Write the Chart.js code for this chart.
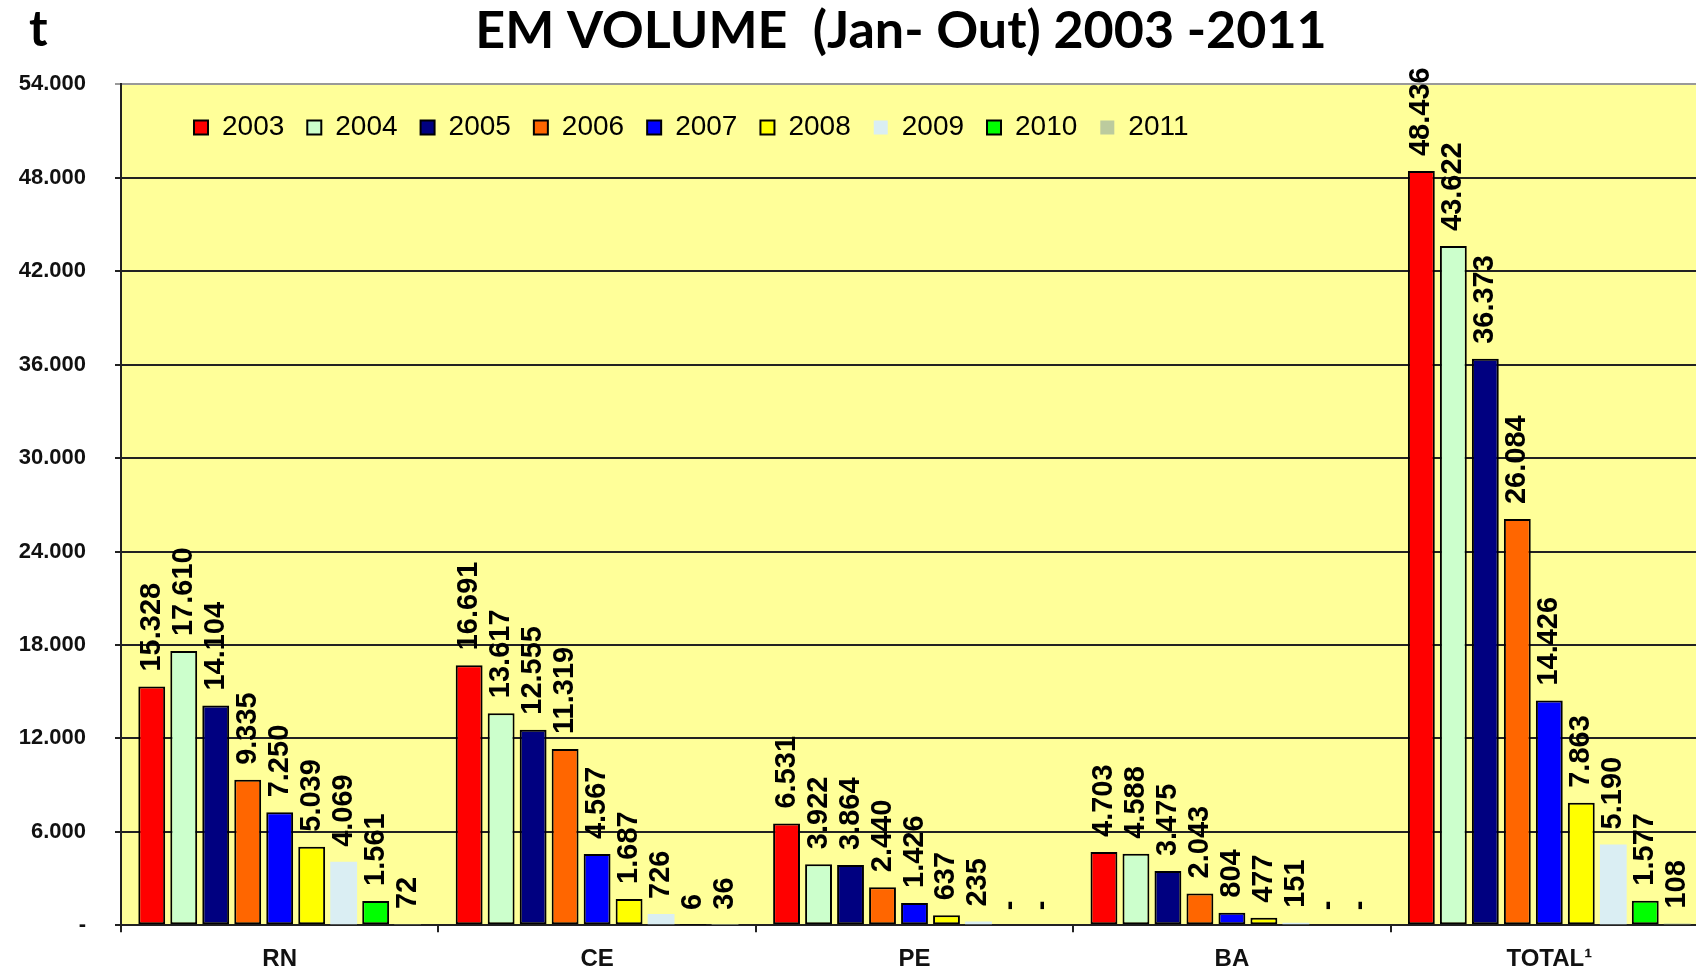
<!DOCTYPE html>
<html lang="pt">
<head>
<meta charset="UTF-8" />
<title>EM VOLUME (Jan- Out) 2003 -2011</title>
<script src="https://cdn.jsdelivr.net/npm/chart.js@4.4.1/dist/chart.umd.min.js"></script>
<style>
  html, body { margin: 0; padding: 0; background: #fff; overflow: hidden; }
  #wrap { position: relative; width: 1712px; height: 973px; }
</style>
</head>
<body>
<div id="wrap"><canvas id="chart"></canvas></div>
<script>
// categories and years
const categories = ['RN', 'CE', 'PE', 'BA', 'TOTAL\u00B9'];
const years = ['2003', '2004', '2005', '2006', '2007', '2008', '2009', '2010', '2011'];

// volume (t) per year, same order as categories
const v2003 = [15328, 16691, 6531, 4703, 48436];
const v2004 = [17610, 13617, 3922, 4588, 43622];
const v2005 = [14104, 12555, 3864, 3475, 36373];
const v2006 = [9335, 11319, 2440, 2043, 26084];
const v2007 = [7250, 4567, 1426, 804, 14426];
const v2008 = [5039, 1687, 637, 477, 7863];
const v2009 = [4069, 726, 235, 151, 5190];
const v2010 = [1561, 6, 0, 0, 1577];
const v2011 = [72, 36, 0, 0, 108];

// y axis: 0 .. 54.000 every 6.000
const yMax = 54000;
const yStep = 6000;

const unitLabel = 't';
const titleText = 'EM VOLUME  (Jan- Out) 2003 -2011';

const series = [v2003, v2004, v2005, v2006, v2007, v2008, v2009, v2010, v2011];
const fills = ['#FF0000', '#CCFFCC', '#000080', '#FF6600', '#0000FF', '#FFFF00', '#DAEEF3', '#00FF00', '#BCCB9E'];
const borders = [2, 2, 2, 2, 2, 2, 0, 2, 0];

// 15328 -> "15.328", 0 -> "-"
function fmt(v) {
  if (!v) return '-';
  return String(v).replace(/\B(?=(\d{3})+(?!\d))/g, '.');
}

Chart.defaults.font.family = '"Liberation Sans", Arial, sans-serif';

const plotBg = {
  id: 'plotBg',
  beforeDraw(chart) {
    const a = chart.chartArea, ctx = chart.ctx;
    ctx.save();
    ctx.fillStyle = '#FFFF99';
    ctx.fillRect(a.left, a.top, a.right - a.left, a.bottom - a.top);
    ctx.restore();
  },
  afterDraw(chart) {
    // unit at top left
    const ctx = chart.ctx;
    ctx.save();
    ctx.font = 'bold 50px Lato, sans-serif';
    ctx.fillStyle = '#000';
    ctx.textBaseline = 'alphabetic';
    ctx.fillText(unitLabel, 29, 46);
    ctx.restore();
  }
};

// legend sits inside the plot area, under the top line; title nudged left
const legendInside = {
  id: 'legendInside',
  afterLayout(chart) {
    const lg = chart.legend, a = chart.chartArea;
    lg.left = a.left + 50;
    lg.right = a.right;
    lg.top = a.top + 6;
    lg.bottom = lg.top + 60;
    lg.width = lg.right - lg.left;
    lg.height = 60;
    chart.titleBlock.left -= 27;
  }
};

const barLabels = {
  id: 'barLabels',
  afterDatasetsDraw(chart) {
    const ctx = chart.ctx;
    ctx.save();
    ctx.font = 'bold 29px "Liberation Sans", Arial, sans-serif';
    ctx.fillStyle = '#000';
    ctx.textAlign = 'left';
    ctx.textBaseline = 'middle';
    chart.data.datasets.forEach((ds, i) => {
      chart.getDatasetMeta(i).data.forEach((bar, j) => {
        ctx.save();
        ctx.translate(bar.x, bar.y - 15);
        ctx.rotate(-Math.PI / 2);
        ctx.fillText(fmt(ds.data[j]), 0, 0);
        ctx.restore();
      });
    });
    ctx.restore();
  }
};

new Chart('chart', {
  type: 'bar',
  data: {
    labels: categories,
    datasets: years.map((y, i) => ({
      label: y,
      data: series[i],
      backgroundColor: fills[i],
      borderColor: '#000',
      borderWidth: borders[i],
      borderSkipped: false,
      categoryPercentage: 0.907,
      barPercentage: 0.84
    }))
  },
  options: {
    responsive: true,
    maintainAspectRatio: false,
    animation: false,
    layout: { padding: { left: 15, right: 4, top: 0, bottom: -14 } },
    plugins: {
      title: {
        display: true,
        text: titleText,
        fullSize: false,
        color: '#000',
        font: { family: 'Lato, sans-serif', size: 52, weight: 'bold' },
        padding: { top: 0, bottom: 21 }
      },
      legend: {
        position: 'top',
        align: 'start',
        maxHeight: 1,
        labels: {
          boxWidth: 14,
          boxHeight: 14,
          padding: 23,
          color: '#000',
          font: { size: 28 }
        }
      },
      tooltip: { enabled: false }
    },
    scales: {
      x: {
        grid: { offset: true, drawOnChartArea: false, tickLength: 7, color: '#222', lineWidth: 2 },
        border: { color: '#222', width: 2 },
        ticks: { color: '#111', padding: 13, font: { size: 24, weight: 'bold' } }
      },
      y: {
        min: 0,
        max: yMax,
        afterFit: s => { s.width = 106; },
        grid: {
          tickLength: 6,
          lineWidth: 2,
          color: c => (c.tick && c.tick.value === yMax ? '#999' : '#222')
        },
        border: { color: '#222', width: 2 },
        ticks: {
          stepSize: yStep,
          color: '#111',
          padding: 29,
          font: { size: 22, weight: 'bold' },
          callback: v => fmt(v)
        }
      }
    }
  },
  plugins: [plotBg, legendInside, barLabels]
});
</script>
</body>
</html>
